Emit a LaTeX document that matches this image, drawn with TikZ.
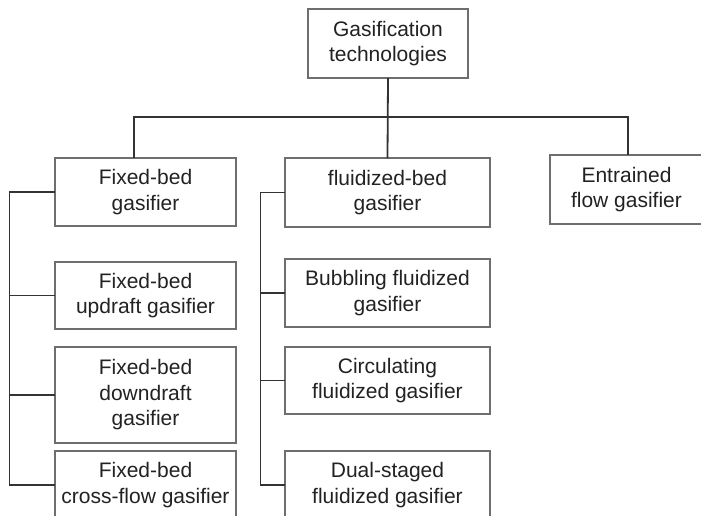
\documentclass[tikz,border=0pt]{standalone}
\usepackage{fontspec}
\setmainfont{Liberation Sans}
\begin{document}
\definecolor{boxline}{HTML}{6E6E6E}
\definecolor{wire}{HTML}{333333}
\definecolor{ink}{HTML}{222222}
\begin{tikzpicture}[x=1pt,y=-1pt,
  box/.style={draw=boxline,line width=1.3pt,fill=white,rectangle,inner sep=0pt,
    align=center,text=ink,font=\fontsize{21}{25.5}\selectfont},
  wirestyle/.style={draw=wire,line width=1.8pt,line cap=rect}]
\clip (0,0) rectangle (701,515);
\fill[white] (0,0) rectangle (701,515);

% top level
\node[box,minimum width=160pt,minimum height=69pt] (root) at (388,43.5) {Gasification\\technologies};

% second level
\node[box,minimum width=181pt,minimum height=68pt] (fixed) at (145.5,192) {Fixed-bed\\gasifier};
\node[box,minimum width=205pt,minimum height=69pt] (fluid) at (387.5,192.5) {fluidized-bed\\gasifier};
\node[box,minimum width=153pt,minimum height=69pt] (entr) at (626.5,189.5) {Entrained\\flow gasifier};

% fixed-bed types
\node[box,minimum width=181pt,minimum height=67pt] (up) at (145.5,295.5) {Fixed-bed\\updraft gasifier};
\node[box,minimum width=181pt,minimum height=96pt] (down) at (145.5,395) {Fixed-bed\\downdraft\\gasifier};
\node[box,minimum width=181pt,minimum height=68pt] (cross) at (145.5,485) {Fixed-bed\\cross-flow gasifier};

% fluidized-bed types
\node[box,minimum width=205pt,minimum height=68pt] (bub) at (387.5,293) {Bubbling fluidized\\gasifier};
\node[box,minimum width=205pt,minimum height=67pt] (circ) at (387.5,380.5) {Circulating\\fluidized gasifier};
\node[box,minimum width=205pt,minimum height=68pt] (dual) at (387.5,485) {Dual-staged\\fluidized gasifier};

% bus from the root to the three families
\coordinate (busL) at (134,117);
\coordinate (busR) at (628,117);
\draw[wirestyle] (root.south) -- (fluid.north);
\draw[wirestyle] (busL |- fixed.north) -- (busL) -- (busR) -- (busR |- entr.north);

% left spine for fixed-bed gasifiers
\coordinate (spineL) at (9.5,0);
\draw[wirestyle] (fixed.west) -- (fixed.west -| spineL) -- (cross.west -| spineL) -- (cross.west);
\draw[wirestyle] (up.west) -- (up.west -| spineL);
\draw[wirestyle] (down.west) -- (down.west -| spineL);

% middle spine for fluidized-bed gasifiers
\coordinate (spineM) at (260.5,0);
\draw[wirestyle] (fluid.west) -- (fluid.west -| spineM) -- (dual.west -| spineM) -- (dual.west);
\draw[wirestyle] (bub.west) -- (bub.west -| spineM);
\draw[wirestyle] (circ.west) -- (circ.west -| spineM);
\end{tikzpicture}
\end{document}
